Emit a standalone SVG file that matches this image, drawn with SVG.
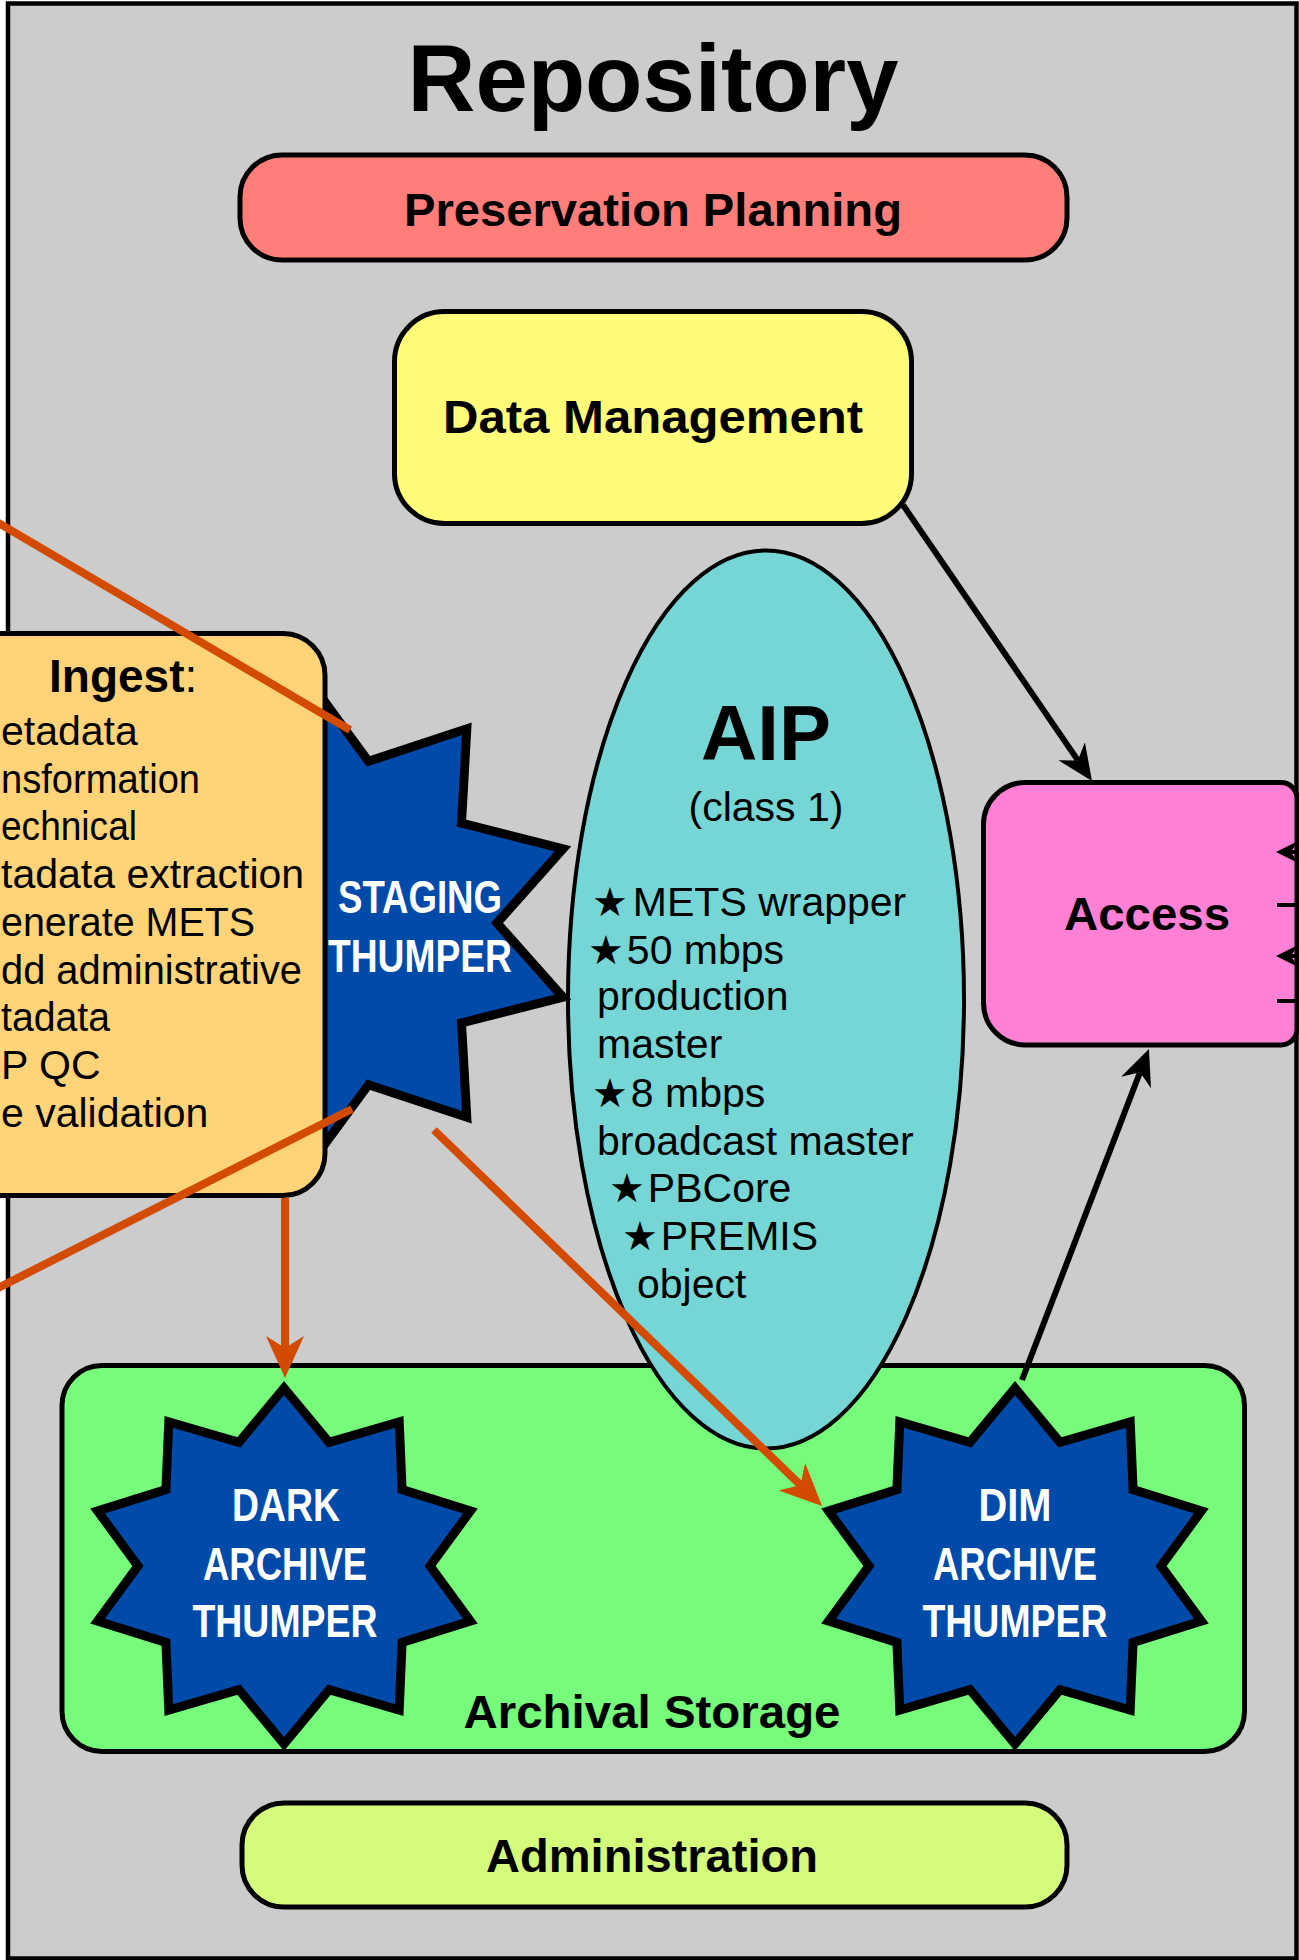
<svg xmlns="http://www.w3.org/2000/svg" width="1299" height="1960" viewBox="0 0 1299 1960">
  <style>
    .box { stroke: #000; stroke-width: 5; }
    .lbl { font-family: "Liberation Sans", Arial, Helvetica, sans-serif; font-weight: bold; text-anchor: middle; fill: #000; }
    .body { font-family: "Liberation Sans", Arial, Helvetica, sans-serif; font-size: 41px; fill: #000; }
    .thump { font-family: "Liberation Sans Narrow", "Liberation Sans", Arial, sans-serif; font-weight: bold; font-size: 46px; fill: #fff; text-anchor: middle; }
    .star { fill: #004AAA; stroke: #000; stroke-width: 9; stroke-linejoin: miter; stroke-miterlimit: 10; }
    .st { font-family: "DejaVu Sans", sans-serif; font-size: 40px; }
    .flow { stroke: #D34B00; stroke-width: 8; fill: none; }
    .link { stroke: #000; stroke-width: 6; fill: none; }
    .thin { stroke: #000; stroke-width: 4; fill: none; }
  </style>
  <defs>
    <!-- ten-point burst used by the archive thumpers -->
    <path id="burst" d="M0,-178 L45.1,-123.6 L115.2,-144 L118.1,-76.4 L186.4,-55 L146,0 L186.4,55 L118.1,76.4 L115.2,144 L45.1,123.6 L0,178 L-45.1,123.6 L-115.2,144 L-118.1,76.4 L-186.4,55 L-146,0 L-186.4,-55 L-118.1,-76.4 L-115.2,-144 L-45.1,-123.6 Z"/>
    <marker id="ahOrange" markerUnits="userSpaceOnUse" markerWidth="50" markerHeight="50" viewBox="0 -25 50 50" refX="12" refY="0" orient="auto">
      <path d="M42,0 L0,-19 L12,0 L0,19 Z" fill="#D34B00"/>
    </marker>
    <marker id="ahBlack" markerUnits="userSpaceOnUse" markerWidth="40" markerHeight="40" viewBox="0 -20 40 40" refX="11" refY="0" orient="auto">
      <path d="M36,0 L0,-16 L11,0 L0,16 Z" fill="#000"/>
    </marker>
    <marker id="ahSmall" markerUnits="userSpaceOnUse" markerWidth="30" markerHeight="30" viewBox="0 -15 30 30" refX="7" refY="0" orient="auto">
      <path d="M22,0 L0,-11 L7,0 L0,11 Z" fill="#000"/>
    </marker>
  </defs>

  <!-- repository frame -->
  <g id="repository">
    <rect x="8" y="3.5" width="1288.5" height="1955" fill="#CCCCCC" stroke="#000" stroke-width="4.5"/>
    <text class="lbl" x="653" y="111" font-size="94">Repository</text>
  </g>

  <g id="archival-storage">
    <rect class="box" x="62" y="1365.5" width="1182.5" height="386" rx="40" fill="#76FB7A"/>
    <text class="lbl" x="652" y="1728" font-size="46" textLength="377" lengthAdjust="spacingAndGlyphs">Archival Storage</text>
  </g>

  <g id="aip">
    <ellipse cx="766" cy="999.5" rx="198" ry="449" fill="#76D6D6" stroke="#000" stroke-width="4"/>
    <text class="lbl" x="766" y="760" font-size="78">AIP</text>
    <text class="body" x="766" y="821" text-anchor="middle">(class 1)</text>
    <text class="body" x="592" y="916"><tspan class="st">★</tspan><tspan dx="5">METS wrapper</tspan></text>
    <text class="body" x="588" y="964"><tspan class="st">★</tspan><tspan dx="3">50 mbps</tspan></text>
    <text class="body" x="597" y="1010">production</text>
    <text class="body" x="597" y="1058">master</text>
    <text class="body" x="592" y="1107"><tspan class="st">★</tspan><tspan dx="3">8 mbps</tspan></text>
    <text class="body" x="597" y="1155">broadcast master</text>
    <text class="body" x="609" y="1202"><tspan class="st">★</tspan><tspan dx="3">PBCore</tspan></text>
    <text class="body" x="622" y="1250"><tspan class="st">★</tspan><tspan dx="3">PREMIS</tspan></text>
    <text class="body" x="637" y="1298">object</text>
  </g>

  <g id="preservation-planning">
    <rect class="box" x="240" y="155" width="827" height="105" rx="42" fill="#FF7E79"/>
    <text class="lbl" x="653" y="226" font-size="46" textLength="498" lengthAdjust="spacingAndGlyphs">Preservation Planning</text>
  </g>

  <g id="data-management">
    <rect class="box" x="394.5" y="311.5" width="517" height="212" rx="50" fill="#FFFC79"/>
    <text class="lbl" x="653" y="433" font-size="46" textLength="420" lengthAdjust="spacingAndGlyphs">Data Management</text>
  </g>

  <g id="administration">
    <rect class="box" x="242" y="1803" width="825" height="104" rx="42" fill="#D4FB79"/>
    <text class="lbl" x="652" y="1872" font-size="46" textLength="332" lengthAdjust="spacingAndGlyphs">Administration</text>
  </g>

  <g id="staging-thumper">
    <path class="star" transform="translate(311,923)" d="M0,-240 L57.5,-161.7 L155.8,-194.2 L150.5,-99.9 L252,-74.2 L186,0 L252,74.2 L150.5,99.9 L155.8,194.2 L57.5,161.7 L0,240 L-57.5,161.7 L-155.8,194.2 L-150.5,99.9 L-252,74.2 L-186,0 L-252,-74.2 L-150.5,-99.9 L-155.8,-194.2 L-57.5,-161.7 Z"/>
    <text class="thump" x="420" y="913" textLength="164" lengthAdjust="spacingAndGlyphs">STAGING</text>
    <text class="thump" x="420" y="972" textLength="184" lengthAdjust="spacingAndGlyphs">THUMPER</text>
  </g>

  <g id="ingest">
    <rect class="box" x="-100" y="633.5" width="425" height="562" rx="42" fill="#FFD479"/>
    <text class="lbl" x="49" y="692" font-size="46" style="text-anchor:start">Ingest<tspan font-weight="normal">:</tspan></text>
    <text class="body" x="1" y="745">etadata</text>
    <text class="body" x="1" y="793" textLength="199" lengthAdjust="spacingAndGlyphs">nsformation</text>
    <text class="body" x="1" y="840" textLength="136" lengthAdjust="spacingAndGlyphs">echnical</text>
    <text class="body" x="1" y="888">tadata extraction</text>
    <text class="body" x="1" y="936" textLength="254" lengthAdjust="spacingAndGlyphs">enerate METS</text>
    <text class="body" x="1" y="984" textLength="301" lengthAdjust="spacingAndGlyphs">dd administrative</text>
    <text class="body" x="1" y="1031" textLength="109" lengthAdjust="spacingAndGlyphs">tadata</text>
    <text class="body" x="1" y="1079">P QC</text>
    <text class="body" x="1" y="1127">e validation</text>
  </g>

  <g id="access">
    <path class="box" d="M1026,782.5 H1281 A16,16 0 0 1 1297,798.5 V1029 A16,16 0 0 1 1281,1045 H1026 A42,42 0 0 1 983.5,1003 V824.5 A42,42 0 0 1 1026,782.5 Z" fill="#FF80D5"/>
    <text class="lbl" x="1147" y="930" font-size="46" textLength="166" lengthAdjust="spacingAndGlyphs">Access</text>
  </g>

  <g id="dark-archive-thumper">
    <use href="#burst" class="star" transform="translate(284,1566)"/>
    <text class="thump" x="286" y="1521" textLength="108" lengthAdjust="spacingAndGlyphs">DARK</text>
    <text class="thump" x="285" y="1580" textLength="164" lengthAdjust="spacingAndGlyphs">ARCHIVE</text>
    <text class="thump" x="285" y="1637" textLength="185" lengthAdjust="spacingAndGlyphs">THUMPER</text>
  </g>

  <g id="dim-archive-thumper">
    <use href="#burst" class="star" transform="translate(1015,1566)"/>
    <text class="thump" x="1015" y="1521" textLength="73" lengthAdjust="spacingAndGlyphs">DIM</text>
    <text class="thump" x="1015" y="1580" textLength="164" lengthAdjust="spacingAndGlyphs">ARCHIVE</text>
    <text class="thump" x="1015" y="1637" textLength="185" lengthAdjust="spacingAndGlyphs">THUMPER</text>
  </g>

  <g id="connectors">
    <!-- transfers into and out of the staging thumper -->
    <line class="flow" x1="-10" y1="518" x2="350" y2="730"/>
    <line class="flow" x1="-10" y1="1292" x2="352" y2="1109"/>
    <line class="flow" x1="434" y1="1130" x2="800.5" y2="1485.1" marker-end="url(#ahOrange)"/>
    <line class="flow" x1="285" y1="1198" x2="285" y2="1348" marker-end="url(#ahOrange)"/>
    <!-- access links -->
    <line class="link" x1="903" y1="505" x2="1077.9" y2="760.4" marker-end="url(#ahBlack)"/>
    <line class="link" x1="1022" y1="1380" x2="1140" y2="1072.3" marker-end="url(#ahBlack)"/>
    <line class="thin" x1="1320" y1="852" x2="1291" y2="852" marker-end="url(#ahSmall)"/>
    <line class="thin" x1="1277" y1="905" x2="1320" y2="905"/>
    <line class="thin" x1="1320" y1="956" x2="1291" y2="956" marker-end="url(#ahSmall)"/>
    <line class="thin" x1="1277" y1="1001" x2="1320" y2="1001"/>
  </g>
</svg>
